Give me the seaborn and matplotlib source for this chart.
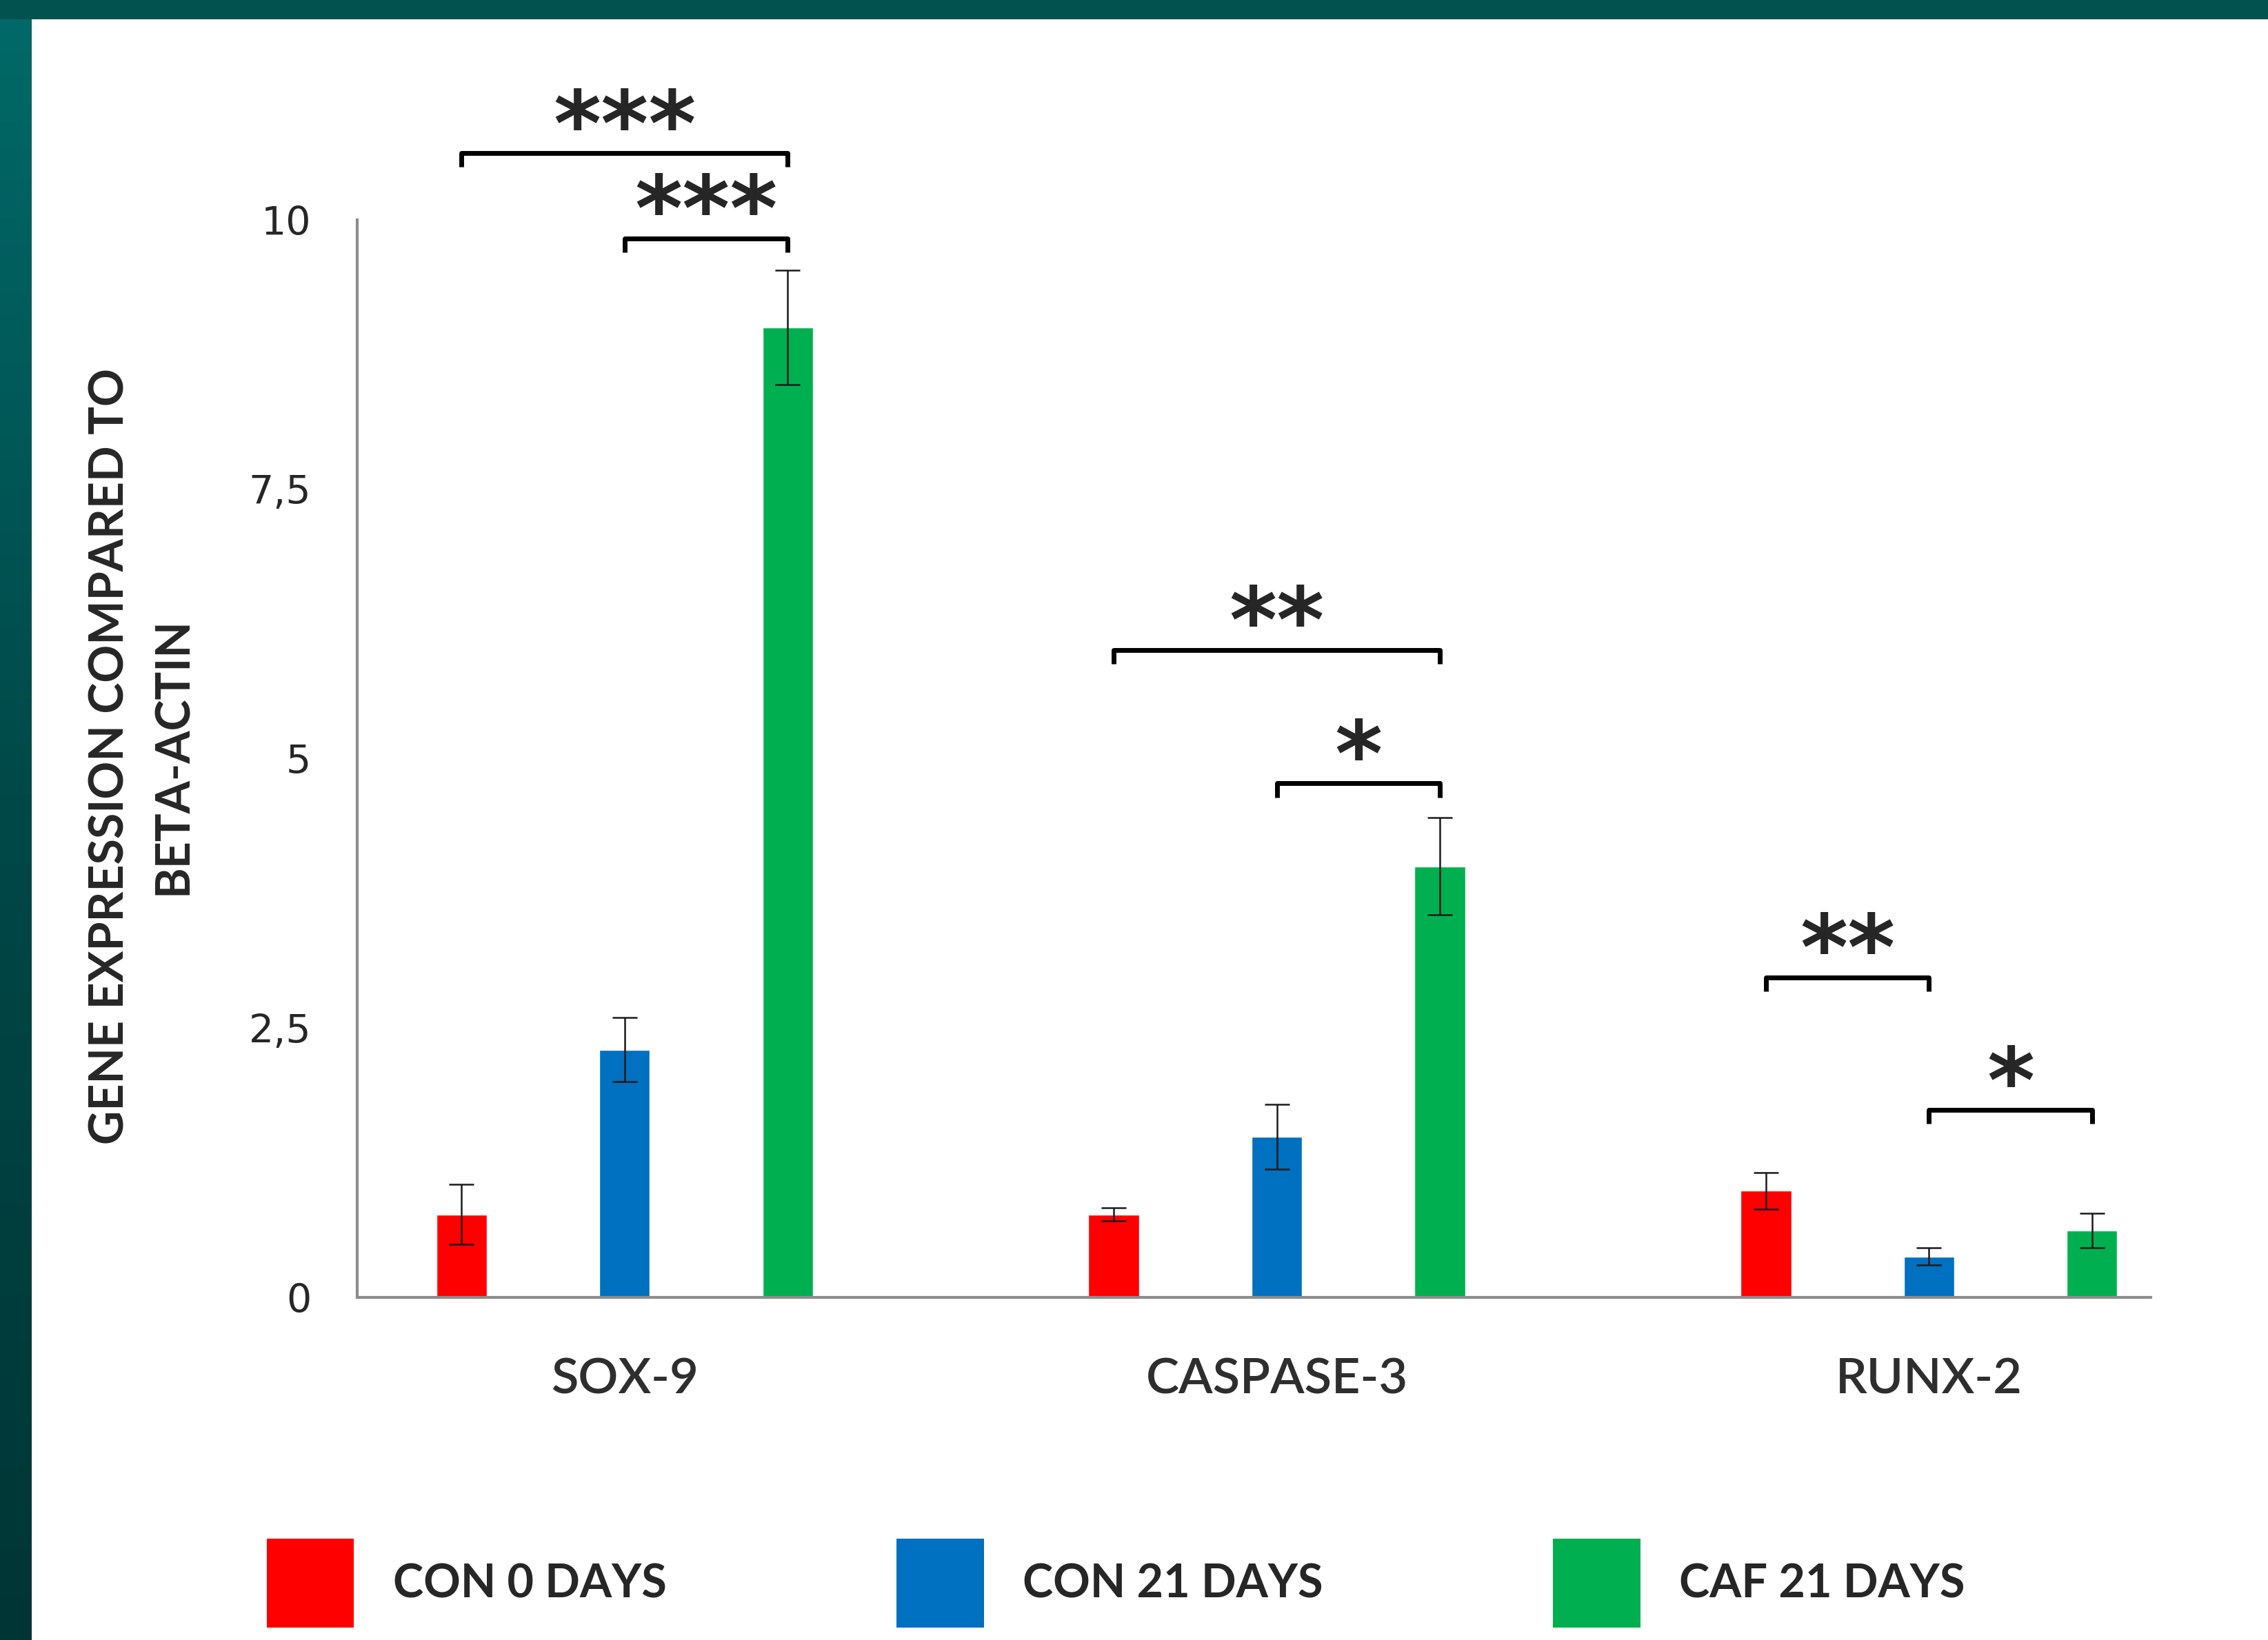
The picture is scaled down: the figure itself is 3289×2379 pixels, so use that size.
import numpy as np
import pandas as pd
import matplotlib
matplotlib.use("Agg")
import matplotlib.pyplot as plt
from matplotlib.patches import Patch
import seaborn as sns

# values
genes = ["SOX-9", "CASPASE-3", "RUNX-2"]
groups = ["CON 0 DAYS", "CON 21 DAYS", "CAF 21 DAYS"]
con0 = [0.77, 0.77, 0.99]
con21 = [2.30, 1.49, 0.38]
caf21 = [9.00, 4.00, 0.62]
con0_err = [0.28, 0.06, 0.17]
con21_err = [0.30, 0.30, 0.08]
caf21_err = [0.53, 0.45, 0.16]
colors = ["#FF0000", "#0070C0", "#00B050"]
yticks = [0, 2.5, 5, 7.5, 10]
ytick_labels = ["0", "2,5", "5", "7,5", "10"]

# significance brackets: (gene, first group, second group, height, stars)
brackets = [
    (0, 0, 2, 10.62, "***"),
    (0, 1, 2, 9.83, "***"),
    (1, 0, 2, 6.01, "**"),
    (1, 1, 2, 4.77, "*"),
    (2, 0, 1, 2.97, "**"),
    (2, 1, 2, 1.74, "*"),
]

df = pd.DataFrame({
    "gene": genes * 3,
    "group": [g for g in groups for _ in genes],
    "value": con0 + con21 + caf21,
})
errs = [con0_err, con21_err, caf21_err]

sns.set_style("white")
plt.rcParams["font.family"] = ["DejaVu Sans"]

fig = plt.figure(figsize=(32.89, 23.79), dpi=100)
ax = fig.add_axes([0.1575, 0.2089, 0.7908, 0.657])

sns.barplot(data=df, x="gene", y="value", hue="group", hue_order=groups,
            order=genes, palette=colors, width=0.75, gap=0.69,
            saturation=1, errorbar=None, legend=False, ax=ax)

# error bars on each bar
bar_conts = list(ax.containers)
centers = {}
for gi, cont in enumerate(bar_conts):
    for bi, bar in enumerate(cont):
        xc = bar.get_x() + bar.get_width() / 2
        centers[(bi, gi)] = xc
        ax.errorbar(xc, bar.get_height(), yerr=errs[gi][bi], color="#1a1a1a",
                    lw=1.8, capsize=13, capthick=1.8)

# significance brackets
drop = 0.13
for gene_i, a, b, h, stars in brackets:
    x0, x1 = centers[(gene_i, a)], centers[(gene_i, b)]
    ax.plot([x0, x0, x1, x1], [h - drop, h, h, h - drop], color="black",
            lw=5, clip_on=False, solid_capstyle="butt")
    ax.annotate(stars, xy=((x0 + x1) / 2, h), xytext=(0, -22),
                textcoords="offset points", ha="center", va="bottom",
                fontsize=95, fontweight="bold", annotation_clip=False,
                family="DejaVu Sans")

ax.set_xlim(-0.41, 2.34)
ax.set_ylim(0, 10)
ax.set_yticks(yticks)
ax.set_yticklabels(ytick_labels, fontsize=41, color="#262626")
ax.tick_params(axis="y", length=0, pad=48)
ax.tick_params(axis="x", length=0, pad=62)
for lab in ax.get_xticklabels():
    lab.set_fontsize(52)
    lab.set_family("Lato")
    lab.set_fontweight("semibold")
    lab.set_color("#2e2e2e")
ax.set_xlabel("")
ax.set_ylabel("")
sns.despine(ax=ax)
for side in ["left", "bottom"]:
    ax.spines[side].set_color("#8c8c8c")
    ax.spines[side].set_linewidth(3)

fig.text(0.0626, 0.539, "GENE EXPRESSION COMPARED TO\nBETA-ACTIN",
         rotation=90, ha="center", va="center", multialignment="center",
         fontsize=49, fontweight="bold", family="Lato", linespacing=1.55)

# legend at the bottom
handles = [Patch(facecolor=c, edgecolor="none") for c in colors]
fig.legend(handles, groups, loc="center", bbox_to_anchor=(0.492, 0.0345),
           ncol=3, frameon=False, prop={"family": "Lato", "weight": "bold", "size": 48},
           handlelength=1.9, handleheight=2.6, handletextpad=0.85,
           columnspacing=5.0)

# teal frame on the left and top
grad = np.linspace(0, 1, 256).reshape(-1, 1)
left = fig.add_axes([0, 0, 46 / 3289, 1])
left.imshow(grad, aspect="auto", cmap=matplotlib.colors.LinearSegmentedColormap.from_list(
    "teal", ["#006a68", "#004848", "#003535"]))
left.axis("off")
top = fig.add_axes([0, 1 - 28 / 2379, 1, 28 / 2379])
top.set_facecolor("#02524f")
top.set_xticks([])
top.set_yticks([])
for s in top.spines.values():
    s.set_visible(False)

fig.savefig("out.png", dpi=100, facecolor="white")
